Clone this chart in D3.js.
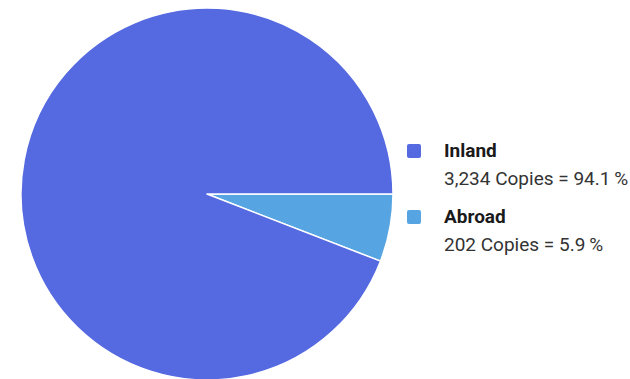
<!DOCTYPE html>
<html><head><meta charset="utf-8">
<script src="https://cdn.jsdelivr.net/npm/d3@7"></script>
<style>html,body{margin:0;padding:0;background:#fff;}svg{display:block;}</style>
</head><body>
<svg id="chart" width="630" height="379"></svg>
<script>
const categories = ["Inland", "Abroad"];
const copies = [3234, 202];
const percents = [94.1, 5.9];
const colors = ["#5569E1", "#57A4E3"];

const svg = d3.select("#chart");
const cx = 207, cy = 194, r = 186;
const data = categories.map((c, i) => ({name: c, value: copies[i], pct: percents[i], color: colors[i]}));

const pie = d3.pie().value(d => d.value).sort(null)
  .startAngle(Math.PI / 2).endAngle(Math.PI / 2 + 2 * Math.PI);
// order: Abroad first clockwise from 3 o'clock, then Inland
const arcs = pie([data[1], data[0]]);
const arc = d3.arc().innerRadius(0).outerRadius(r);
svg.append("g").attr("transform", `translate(${cx},${cy})`)
  .selectAll("path").data(arcs).join("path")
  .attr("d", arc).attr("fill", d => d.data.color)
  .attr("stroke", "#fff").attr("stroke-width", 1.5).attr("stroke-linejoin", "round");

const fmt = d3.format(",");
const lg = svg.append("g").attr("font-family", "Roboto, sans-serif");
const rows = lg.selectAll("g").data(data).join("g")
  .attr("transform", (d, i) => `translate(0,${i * 66})`);
rows.append("rect").attr("x", 407).attr("y", 144).attr("width", 14).attr("height", 14)
  .attr("rx", 2).attr("fill", d => d.color);
rows.append("text").attr("x", 444).attr("y", 157).attr("font-size", 19).attr("font-weight", "bold")
  .attr("fill", "#1a1a1a").text(d => d.name);
rows.append("text").attr("x", 444).attr("y", 185).attr("font-size", 19)
  .attr("fill", "#333").text(d => `${fmt(d.value)} Copies = ${d.pct.toFixed(1)}\u2009%`);
</script>
</body></html>
